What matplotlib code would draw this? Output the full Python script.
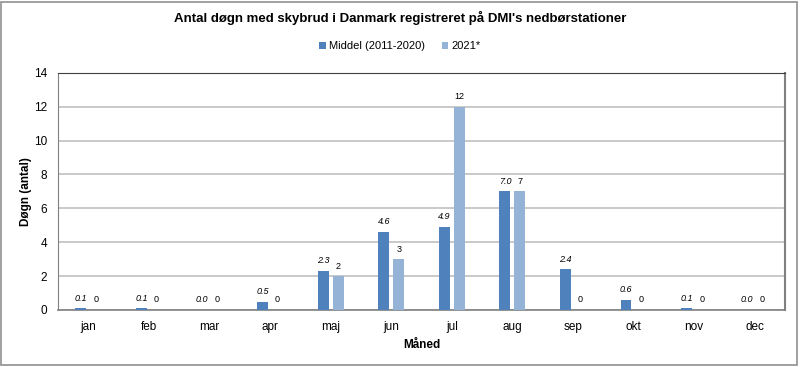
import matplotlib
matplotlib.use("Agg")
import matplotlib.pyplot as plt
import numpy as np
from matplotlib.patches import Rectangle

plt.rcParams["font.family"] = ["Liberation Sans", "DejaVu Sans"]

months = ["jan", "feb", "mar", "apr", "maj", "jun", "jul", "aug", "sep", "okt", "nov", "dec"]
middel = [0.1, 0.1, 0.0, 0.5, 2.3, 4.6, 4.9, 7.0, 2.4, 0.6, 0.1, 0.0]
aar_2021 = [0, 0, 0, 0, 2, 3, 12, 7, 0, 0, 0, 0]
yticks = [0, 2, 4, 6, 8, 10, 12, 14]

dark = "#4F81BD"
light = "#95B3D7"

fig = plt.figure(figsize=(8.01, 3.67), dpi=100)
ax = fig.add_axes([58 / 801, 1 - 310 / 367, (785 - 58) / 801, (310 - 72.7) / 367])

x = np.arange(len(months))
w = 0.18
off = 0.124
b1 = ax.bar(x - off, middel, w, color=dark, label="Middel (2011-2020)", zorder=3)
b2 = ax.bar(x + off, aar_2021, w, color=light, label="2021*", zorder=3)

for xi, v in zip(x, middel):
    ax.annotate(f"{v:.1f}", (xi - off, v), xytext=(0, 4), textcoords="offset points",
                ha="center", va="bottom", fontsize=6.5, style="italic")
for xi, v in zip(x, aar_2021):
    ax.annotate(f"{v:d}", (xi + off, v), xytext=(0, 4), textcoords="offset points",
                ha="center", va="bottom", fontsize=6.5)

ax.set_xlim(-0.5, len(months) - 0.5)
ax.set_ylim(0, 14)
ax.set_yticks(yticks)
ax.set_xticks(x)
ax.set_xticklabels(months)
ax.tick_params(axis="both", length=0, labelsize=8.5)
ax.tick_params(axis="x", pad=8)
ax.tick_params(axis="y", pad=8)
ax.grid(axis="y", color="#c0c0c0", linewidth=1.2, zorder=0)
for s in ["left", "right"]:
    ax.spines[s].set_color("#808080")
ax.spines["right"].set_linewidth(1.5)
ax.spines["top"].set_color("#404040")
ax.spines["bottom"].set_color("#808080")
ax.spines["bottom"].set_linewidth(1.2)

ax.set_xlabel("Måned", fontsize=8.5, fontweight="bold", labelpad=4)
ax.set_ylabel("Døgn (antal)", fontsize=8.5, fontweight="bold", labelpad=1)

fig.text(0.5, 1 - 18 / 367, "Antal døgn med skybrud i Danmark registreret på DMI's nedbørstationer",
         ha="center", va="center", fontsize=9.5, fontweight="bold")
fig.legend(handles=[b1, b2], loc="center", bbox_to_anchor=(400 / 801, 1 - 46 / 367), ncol=2,
           frameon=False, fontsize=8, handlelength=0.6, handleheight=0.6,
           handletextpad=0.3, columnspacing=1.5)

fig.patches.append(Rectangle((1 / 801, 2 / 367), 796 / 801, 363 / 367, transform=fig.transFigure,
                             fill=False, edgecolor="#909090", linewidth=1.2))

fig.savefig("out.png", dpi=100, facecolor="white")
